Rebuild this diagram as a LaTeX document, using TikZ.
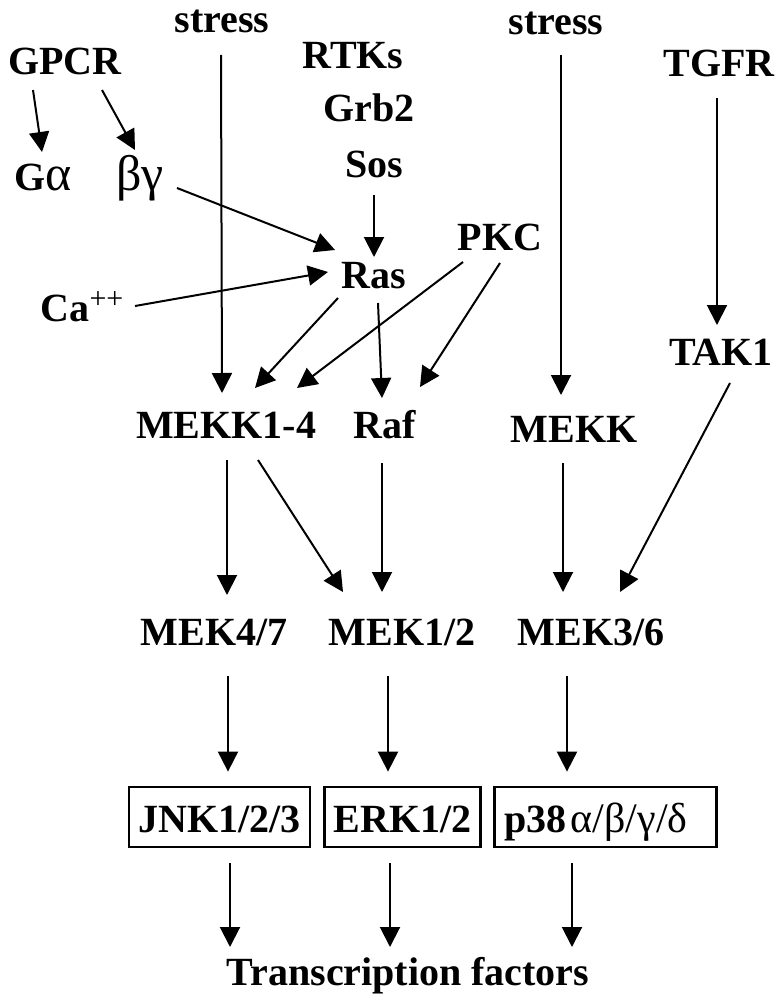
\documentclass[tikz,border=0pt]{standalone}
\usepackage{fontspec}
\setmainfont{Liberation Serif}
\usetikzlibrary{arrows.meta}
\newcommand{\gk}[1]{{\mdseries\fontsize{25}{26}\selectfont #1}}
\begin{document}
\begin{tikzpicture}[x=0.5pt,y=-0.5pt,
  lbl/.style={font=\fontsize{20}{24}\selectfont\bfseries, inner sep=0pt, anchor=base},
  arr/.style={line width=1pt, -{Triangle[length=10pt,width=10pt]}},
  kbox/.style={draw, line width=1.4pt, font=\fontsize{20}{24}\selectfont\bfseries,
    inner xsep=0pt, inner ysep=0pt, minimum height=30pt, text height=15pt, text depth=0pt}]
\fill[white] (0,0) rectangle (778,1006);
\useasboundingbox (0,0) rectangle (778,1006);
% labels
\node[lbl] (stressA) at (222,33) {stress};
\node[lbl] (gpcr) at (65,75) {GPCR};
\node[lbl] (rtks) at (353,69) {RTKs};
\node[lbl] (stressB) at (556,35) {stress};
\node[lbl] (tgfr) at (719,77) {TGFR};
\node[lbl] (grb2) at (369,122) {Grb2};
\node[lbl] (sos) at (374,177) {Sos};
\node[lbl] (galpha) at (43,190) {G\gk{α}};
\node[lbl] (bg) at (140,190) {\gk{βγ}};
\node[lbl] (pkc) at (500,250) {PKC};
\node[lbl] (ras) at (374,288) {Ras};
\node[lbl] (ca) at (82,321) {Ca\raisebox{6.5pt}{\mdseries\fontsize{15}{15}\selectfont ++}};
\node[lbl] (tak1) at (721,365) {TAK1};
\node[lbl] (mekk14) at (226,438) {MEKK1-4};
\node[lbl] (raf) at (385,438) {Raf};
\node[lbl] (mekk) at (574,442) {MEKK};
\node[lbl] (mek47) at (214,645) {MEK4/7};
\node[lbl] (mek12) at (402,645) {MEK1/2};
\node[lbl] (mek36) at (591,645) {MEK3/6};
\node[kbox, minimum width=90.5pt] (jnk) at (219.5,817) {JNK1/2/3};
\node[kbox, minimum width=78pt] (erk) at (402.5,817) {ERK1/2};
\node[kbox, inner xsep=5pt, text width=101pt, align=left] (p38) at (605.5,817) {p38\hspace{2pt}{\mdseries\fontsize{21}{24}\selectfont α/β/γ/δ}};
\node[lbl] (tf) at (408,985) {Transcription factors};
% connectors
\draw[arr] ([shift={(-32,15)}]gpcr.base) -- ([shift={(-1,-38)}]galpha.base);
\draw[arr] ([shift={(37,15)}]gpcr.base) -- ([shift={(-5,-40)}]bg.base);
\draw[arr] ([shift={(37,-2)}]bg.base) -- ([shift={(-39,-38)}]ras.base);
\draw[arr] ([shift={(53,-15)}]ca.base) -- ([shift={(-46,-16)}]ras.base);
\draw[arr] ([shift={(0,18)}]sos.base) -- ([shift={(0,-31)}]ras.base);
\draw[arr] ([shift={(-1,22)}]stressA.base) -- ([shift={(-4,-45)}]mekk14.base);
\draw[arr] ([shift={(-36,10)}]ras.base) -- ([shift={(29,-50)}]mekk14.base);
\draw[arr] ([shift={(4,15)}]ras.base) -- ([shift={(-3,-40)}]raf.base);
\draw[arr] ([shift={(-37,12)}]pkc.base) -- ([shift={(71,-50)}]mekk14.base);
\draw[arr] ([shift={(0,13)}]pkc.base) -- ([shift={(35,-51)}]raf.base);
\draw[arr] ([shift={(5,20)}]stressB.base) -- ([shift={(-13,-47)}]mekk.base);
\draw[arr] ([shift={(-2,21)}]tgfr.base) -- ([shift={(-4,-40)}]tak1.base);
\draw[arr] ([shift={(9,18)}]tak1.base) -- ([shift={(29,-53)}]mek36.base);
\draw[arr] ([shift={(-11,21)}]mekk.base) -- ([shift={(-28,-53)}]mek36.base);
\draw[arr] ([shift={(1,22)}]mekk14.base) -- ([shift={(13,-50)}]mek47.base);
\draw[arr] ([shift={(32,22)}]mekk14.base) -- ([shift={(-59,-53)}]mek12.base);
\draw[arr] ([shift={(-3,25)}]raf.base) -- ([shift={(-20,-53)}]mek12.base);
\draw[arr] ([shift={(14,31)}]mek47.base) -- ([shift={(8.5,-14)}]jnk.north);
\draw[arr] ([shift={(-14,31)}]mek12.base) -- ([shift={(-14.5,-14)}]erk.north);
\draw[arr] ([shift={(-24,31)}]mek36.base) -- ([shift={(-38.5,-14)}]p38.north);
\draw[arr] ([shift={(10.5,15)}]jnk.south) -- ([shift={(-178,-38)}]tf.base);
\draw[arr] ([shift={(-12.5,15)}]erk.south) -- ([shift={(-18,-38)}]tf.base);
\draw[arr] ([shift={(-33.5,15)}]p38.south) -- ([shift={(164,-38)}]tf.base);
\end{tikzpicture}
\end{document}
